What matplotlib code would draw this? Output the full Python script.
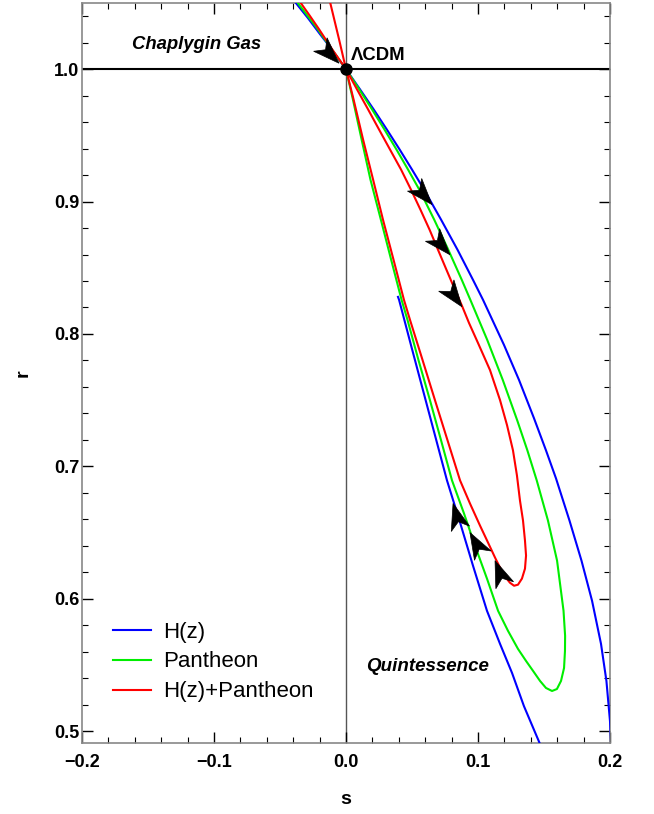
import matplotlib
matplotlib.use("Agg")
import matplotlib.pyplot as plt
import numpy as np
from matplotlib.patches import Polygon
from matplotlib.ticker import MultipleLocator

plt.rcParams['font.family'] = ['Liberation Sans', 'DejaVu Sans']

# statefinder trajectories (s, r)
hz_s = [-0.0462, -0.0386, -0.0288, -0.0197, -0.0121, -0.0061, 0.0, 0.0106, 0.0209, 0.0309,
        0.0406, 0.0500, 0.0591, 0.0720, 0.0845, 0.0962, 0.1038, 0.1197, 0.1311, 0.1424,
        0.1515, 0.1591, 0.1693, 0.1784, 0.1864, 0.1932, 0.1973, 0.2000, 0.2015, 0.2000,
        0.1924, 0.1773, 0.1636, 0.1568, 0.1470, 0.1348, 0.1258, 0.1167, 0.1068, 0.0962,
        0.0864, 0.0765, 0.0674, 0.0583, 0.0492, 0.0402, 0.0394]
hz_r = [1.0606, 1.0508, 1.0386, 1.0265, 1.0167, 1.0083, 1.0, 0.9848, 0.9697, 0.9545,
        0.9394, 0.9242, 0.9091, 0.8864, 0.8636, 0.8409, 0.8258, 0.7917, 0.7652, 0.7364,
        0.7121, 0.6909, 0.6591, 0.6288, 0.5985, 0.5659, 0.5379, 0.5076, 0.4773, 0.4545,
        0.4409, 0.4379, 0.4508, 0.4659, 0.4902, 0.5189, 0.5439, 0.5659, 0.5909, 0.6250,
        0.6576, 0.6894, 0.7235, 0.7576, 0.7917, 0.8258, 0.8280]

pan_s = [-0.0455, -0.0371, -0.0220, -0.0114, 0.0, 0.0100, 0.0197, 0.0291, 0.0382, 0.0470,
         0.0555, 0.0668, 0.0775, 0.0877, 0.0942, 0.1070, 0.1188, 0.1297, 0.1374, 0.1445,
         0.1530, 0.1599, 0.1648, 0.1660, 0.1659, 0.1652, 0.1629, 0.1598, 0.1561, 0.1515,
         0.1470, 0.1417, 0.1364, 0.1303, 0.1227, 0.1152, 0.1068, 0.0977, 0.0894, 0.0803,
         0.0720, 0.0636, 0.0549, 0.0466, 0.0421, 0.0342, 0.0264, 0.0185, 0.0118, 0.0052,
         0.0]
pan_r = [1.0621, 1.0508, 1.0311, 1.0159, 1.0, 0.9848, 0.9697, 0.9545, 0.9394, 0.9242,
         0.9091, 0.8864, 0.8636, 0.8409, 0.8258, 0.7955, 0.7652, 0.7348, 0.7121, 0.6894,
         0.6591, 0.6288, 0.5909, 0.5720, 0.5606, 0.5477, 0.5379, 0.5318, 0.5303, 0.5326,
         0.5379, 0.5455, 0.5530, 0.5621, 0.5758, 0.5909, 0.6152, 0.6402, 0.6644, 0.6894,
         0.7197, 0.7500, 0.7803, 0.8106, 0.8258, 0.8561, 0.8864, 0.9167, 0.9470, 0.9773,
         1.0]

joint_s = [-0.0432, -0.0348, -0.0273, -0.0205, -0.0106, 0.0, 0.0083, 0.0167, 0.0250, 0.0333,
           0.0417, 0.0492, 0.0564, 0.0633, 0.0697, 0.0761, 0.0826, 0.0879, 0.0932, 0.1000,
           0.1091, 0.1167, 0.1220, 0.1265, 0.1295, 0.1318, 0.1341, 0.1356, 0.1364, 0.1356,
           0.1333, 0.1303, 0.1273, 0.1242, 0.1205, 0.1167, 0.1129, 0.1076, 0.1015, 0.0939,
           0.0864, 0.0769, 0.0674, 0.0580, 0.0485, 0.0439, 0.0360, 0.0280, 0.0205, 0.0129,
           0.0057, 0.0, -0.0053, -0.0121, -0.0148]
joint_r = [1.0621, 1.0508, 1.0402, 1.0303, 1.0152, 1.0, 0.9848, 0.9697, 0.9545, 0.9394,
           0.9242, 0.9091, 0.8939, 0.8788, 0.8636, 0.8485, 0.8333, 0.8212, 0.8083, 0.7932,
           0.7727, 0.7500, 0.7311, 0.7121, 0.6932, 0.6742, 0.6591, 0.6439, 0.6326, 0.6227,
           0.6152, 0.6106, 0.6098, 0.6121, 0.6167, 0.6235, 0.6311, 0.6424, 0.6553, 0.6720,
           0.6894, 0.7197, 0.7500, 0.7803, 0.8106, 0.8258, 0.8561, 0.8864, 0.9167, 0.9470,
           0.9773, 1.0, 1.0227, 1.0508, 1.0621]

# arrowheads: tip and tail points (s, r)
arrow_tip_s = [-0.0053, 0.0652, 0.0788, 0.0879, 0.0811, 0.0939, 0.1129]
arrow_tip_r = [1.0045, 0.8977, 0.8598, 0.8205, 0.6720, 0.6500, 0.6288]
arrow_tail_s = [-0.0182, 0.0538, 0.0674, 0.0773, 0.0864, 0.1015, 0.1189]
arrow_tail_r = [1.0174, 0.9106, 0.8727, 0.8348, 0.6538, 0.6364, 0.6136]


def arrow_head(ax, tip, tail, length=0.02, half=0.0072):
    tip = np.array(tip)
    d = tip - np.array(tail)
    d = d / np.hypot(*d)
    n = np.array([-d[1], d[0]])
    pts = [tip,
           tip - length * d + half * n,
           tip - 0.72 * length * d,
           tip - length * d - half * n]
    ax.add_patch(Polygon(pts, closed=True, facecolor='black', edgecolor='black',
                         lw=0.5, zorder=5))


fig = plt.figure(figsize=(6.54, 8.14), dpi=100)
ax = fig.add_axes([0.1254, 0.0872, 0.8073, 0.9091])

ax.axhline(1.0, color='black', lw=1.5, zorder=1)
ax.axvline(0.0, color='#555555', lw=1.0, zorder=1)

ax.plot(hz_s, hz_r, color='#0000ff', lw=1.5, label='H(z)', zorder=3)
ax.plot(pan_s, pan_r, color='#00ee00', lw=1.5, label='Pantheon', zorder=3)
ax.plot(joint_s, joint_r, color='#ff0000', lw=1.5, label='H(z)+Pantheon', zorder=3)

for ts, tr, bs, br in zip(arrow_tip_s, arrow_tip_r, arrow_tail_s, arrow_tail_r):
    arrow_head(ax, (ts, tr), (bs, br))

ax.plot([0.0], [1.0], 'o', color='black', ms=8, zorder=6)

ax.text(-0.113, 1.019, 'Chaplygin Gas', fontsize=13.3, fontweight='bold', style='italic',
        ha='center', va='center')
ax.text(0.004, 1.010, 'ΛCDM', fontsize=13.3, fontweight='bold', ha='left', va='center')
ax.text(0.062, 0.549, 'Quintessence', fontsize=13.5, fontweight='bold', style='italic',
        ha='center', va='center')

ax.set_xlim(-0.2, 0.2)
ax.set_ylim(0.491, 1.05)
ax.set_xticks([-0.2, -0.1, 0.0, 0.1, 0.2])
ax.set_xticklabels(['\u22120.2', '\u22120.1', '0.0', '0.1', '0.2'], fontweight='bold')
ax.set_yticks([0.5, 0.6, 0.7, 0.8, 0.9, 1.0])
ax.set_yticklabels(['0.5', '0.6', '0.7', '0.8', '0.9', '1.0'], fontweight='bold')
ax.xaxis.set_minor_locator(MultipleLocator(0.02))
ax.yaxis.set_minor_locator(MultipleLocator(0.02))
ax.tick_params(which='both', direction='in', top=True, right=True, color='black')
ax.tick_params(which='major', length=8, width=1, labelsize=13)
ax.tick_params(which='minor', length=4, width=0.8)
ax.xaxis.set_tick_params(which='major', pad=8)
ax.yaxis.set_tick_params(which='major', pad=2)
for sp in ax.spines.values():
    sp.set_color('#888888')
    sp.set_linewidth(1.2)

ax.set_xlabel('s', fontsize=14, fontweight='bold', labelpad=14)
ax.set_ylabel('r', fontsize=14, fontweight='bold', labelpad=16)

ax.legend(loc='lower left', bbox_to_anchor=(0.0587, 0.055), frameon=False, fontsize=16,
          handlelength=1.7, handletextpad=0.55, labelspacing=0.4, borderpad=0,
          borderaxespad=0)

fig.savefig('out.png', dpi=100)
